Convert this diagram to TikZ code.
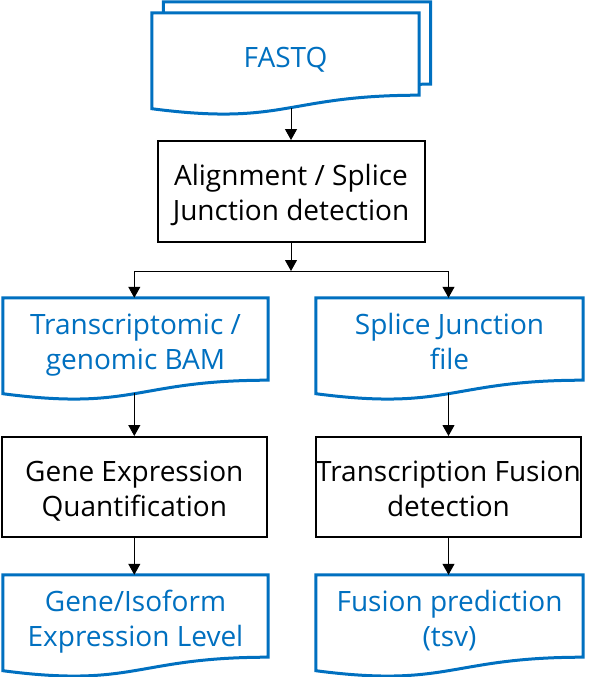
\documentclass[tikz,border=0pt]{standalone}
\usepackage{fontspec}
\setmainfont{Open Sans}
\usetikzlibrary{arrows.meta,calc}
\definecolor{docblue}{HTML}{0070C0}
\newcommand\mainfs{\fontsize{28}{35}\selectfont}
\newcommand\dtop{\rule{0pt}{34pt}}
\newcommand\btop{\rule{0pt}{32pt}}
\newcommand\lbot{\rule[-8pt]{0pt}{8pt}}
\pgfdeclarelayer{background}
\pgfsetlayers{background,main}
\tikzset{
  procbox/.style={draw=black, line width=2pt, minimum width=265pt, minimum height=100pt, align=center, inner sep=0pt, font=\mainfs},
  doctext/.style={minimum width=265pt, minimum height=82pt, align=center, inner sep=0pt, text=docblue, font=\mainfs},
  docline/.style={draw=docblue, line width=3pt, fill=white, line join=miter},
  arr/.style={line width=1pt, -{Triangle[width=12pt,length=11pt]}},
}
\newcommand\docoutline[3]{\path[docline] ($(#1.north west)+(#2,#3)$) -- ($(#1.north east)+(#2,#3)$) -- ($(#1.south east)+(#2,#3)$) .. controls ($(#1.south)+(#2,#3)$) and ($(#1.south)+(#2,#3+31)$) .. ($(#1.south west)+(#2,#3+13.5)$) -- cycle;}
\begin{document}
\begin{tikzpicture}[x=1pt,y=-1pt]
\useasboundingbox (0,0) rectangle (599,677);
\node[doctext, minimum width=267pt] (fastq) at (285.5,54) {\dtop FASTQ\lbot};
\node[procbox, minimum width=267pt, minimum height=100.5pt] (align) at (291,191.3) {\btop Alignment / Splice\\Junction detection\lbot};
\node[doctext] (bam) at (135.5,339) {\dtop Transcriptomic /\\genomic BAM\lbot};
\node[doctext, minimum width=267pt] (sjf) at (449.5,339) {\dtop Splice Junction\\file\lbot};
\node[procbox, minimum width=265.5pt] (geq) at (134.3,487) {\btop Gene Expression\\Quantification\lbot};
\node[procbox] (tfd) at (448.5,487) {\btop Transcription Fusion\\detection\lbot};
\node[doctext] (gil) at (135.5,616) {\dtop Gene/Isoform\\Expression Level\lbot};
\node[doctext, minimum width=267pt] (fp) at (449.5,616) {\dtop Fusion prediction\\(tsv)\lbot};
\begin{pgfonlayer}{background}
\docoutline{fastq}{11.5}{-11}
\docoutline{fastq}{0}{0}
\docoutline{bam}{0}{0}
\docoutline{sjf}{0}{0}
\docoutline{gil}{0}{0}
\docoutline{fp}{0}{0}
\end{pgfonlayer}
\coordinate (fqout) at ($(align.north |- fastq.south)+(0,13)$);
\coordinate (split) at (291,271);
\coordinate (bamout) at ($(geq.north |- bam.south)+(0,13)$);
\coordinate (sjfout) at ($(tfd.north |- sjf.south)+(0,13)$);
\draw[arr] (fqout) -- (align.north);
\draw[arr] (align.south) -- (split);
\draw[arr] (split) -| (geq.north |- bam.north);
\draw[arr] (split) -| (tfd.north |- sjf.north);
\draw[arr] (bamout) -- (geq.north);
\draw[arr] (sjfout) -- (tfd.north);
\draw[arr] (geq.south) -- (geq.south |- gil.north);
\draw[arr] (tfd.south) -- (tfd.south |- fp.north);
\end{tikzpicture}
\end{document}
